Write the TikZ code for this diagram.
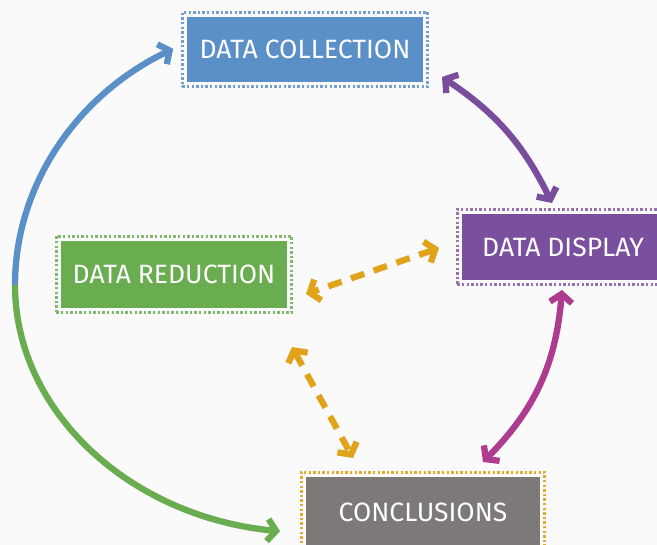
\documentclass[tikz,border=0pt]{standalone}
\usepackage{fontspec}
\setmainfont{Fira Sans}
\usetikzlibrary{arrows.meta,fit}

\definecolor{bgpaper}{HTML}{FAFAFA}
\definecolor{collectblue}{HTML}{5A8FC8}
\definecolor{displaypurple}{HTML}{7A4F9E}
\definecolor{reducegreen}{HTML}{6AAD51}
\definecolor{concgray}{HTML}{7D7979}
\definecolor{linkgold}{HTML}{E0A31A}
\definecolor{linkmagenta}{HTML}{AD3B8F}
\definecolor{linkpurple}{HTML}{7A4C9E}

\tikzset{
  barb/.tip={Straight Barb[length=8.5pt,width=22pt]},
  stagebox/.style={fill=#1, text=white, inner sep=0pt,
    font=\fontsize{26.5}{31}\selectfont},
  dotframe/.style={draw=#1, line width=2.6pt, dash pattern=on 2.4pt off 2.2pt,
    inner sep=4.5pt},
  link/.style={draw=#1, line width=6.3pt},
  dashlink/.style={draw=#1, line width=6.3pt, dash pattern=on 14pt off 10pt},
}

\begin{document}
\begin{tikzpicture}[x=1pt,y=-1pt]
  % page area
  \clip (0,0) rectangle (657,545);
  \fill[bgpaper] (0,0) rectangle (657,545);

  % the four stages
  \node[stagebox=collectblue, minimum width=236pt, minimum height=65pt]
    (collect) at (305,49.5) {DATA COLLECTION};
  \node[stagebox=displaypurple, minimum width=202pt, minimum height=66pt]
    (display) at (563,247) {DATA DISPLAY};
  \node[stagebox=reducegreen, minimum width=226pt, minimum height=67pt]
    (reduce) at (174,274.5) {DATA REDUCTION};
  \node[stagebox=concgray, minimum width=234pt, minimum height=70pt]
    (concl) at (423,512) {CONCLUSIONS};

  % dotted frames around the stages
  \node[dotframe=collectblue!85!white, fit=(collect)] (collectframe) {};
  \node[dotframe=displaypurple!80!white, fit=(display)] (displayframe) {};
  \node[dotframe=reducegreen!85!white, fit=(reduce)] (reduceframe) {};
  \node[dotframe=linkgold!90!white, fit=(concl)] (conclframe) {};

  % end points of the connectors
  \coordinate (loopleft) at (15,285);
  \coordinate (collectS) at (442,77);
  \coordinate (displayN) at (552,203);
  \coordinate (displayS) at (562,290);
  \coordinate (conclN) at (483,462);
  \coordinate (displayW) at (439,248);
  \coordinate (reduceE) at (306,294);
  \coordinate (reduceS) at (292,347);
  \coordinate (conclNW) at (353,458);

  % outer loop: collection side (blue) and reduction side (green)
  \draw[link=collectblue, -{barb}] (loopleft)
    arc[start angle=180, end angle=241.8, x radius=300, y radius=268];
  \draw[link=reducegreen, -{barb}] (loopleft)
    arc[start angle=180, end angle=96.7, x radius=300, y radius=248];

  % solid two-way links
  \draw[link=linkpurple, {barb}-{barb}] (collectS) to[bend left=15] (displayN);
  \draw[link=linkmagenta, {barb}-{barb}] (displayS) to[bend left=20] (conclN);

  % dashed two-way links
  \draw[dashlink=linkgold, {barb}-{barb}] (displayW) -- (reduceE);
  \draw[dashlink=linkgold, {barb}-{barb}] (reduceS) -- (conclNW);
\end{tikzpicture}
\end{document}
